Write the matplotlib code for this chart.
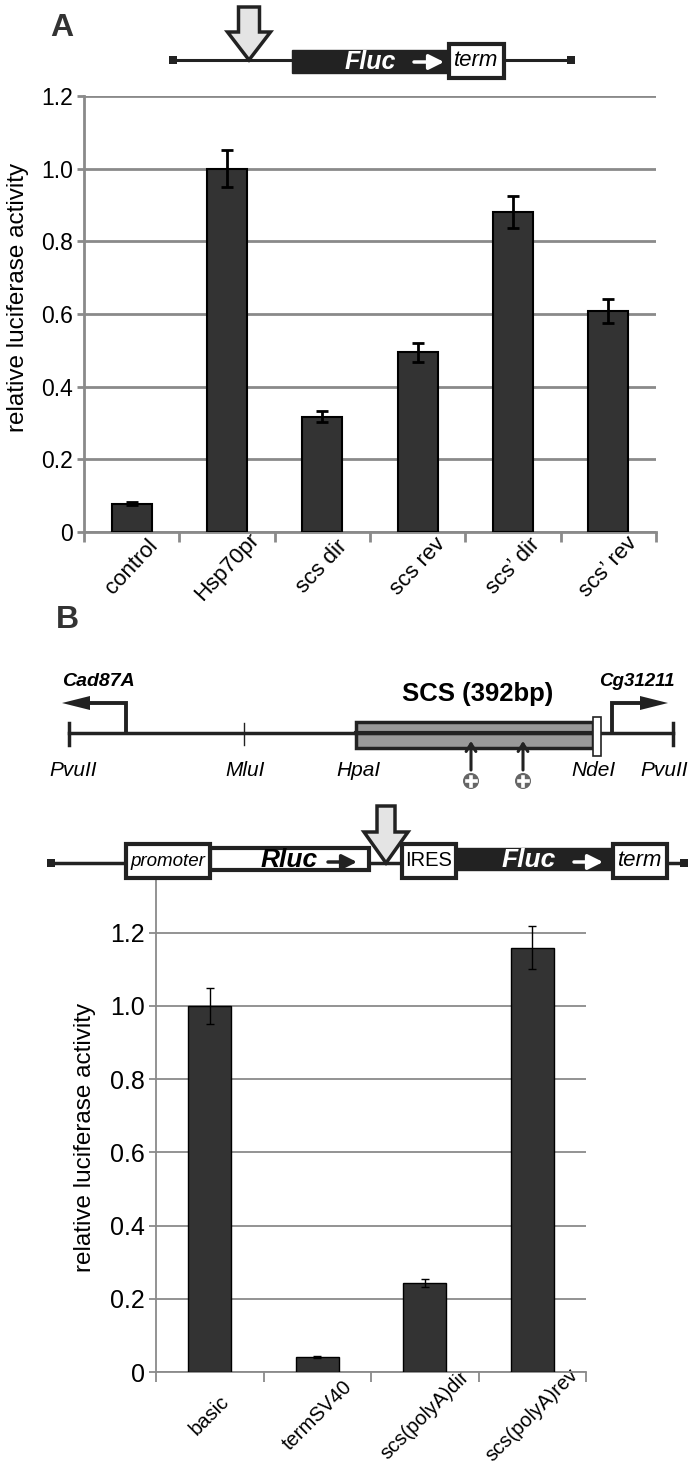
import matplotlib.pyplot as plt
import numpy as np
from matplotlib.patches import Rectangle, Polygon, Circle

# panel A: Fluc reporter, relative activity
labels_a = ['control', 'Hsp70pr', 'scs dir', 'scs rev', 'scs\u2019 dir', 'scs\u2019 rev']
values_a = [0.078, 1.0, 0.317, 0.495, 0.881, 0.608]
err_a = [0.004, 0.05, 0.015, 0.026, 0.043, 0.032]

# panel B: bicistronic Rluc-IRES-Fluc reporter
labels_b = ['basic', 'termSV40', 'scs(polyA)dir', 'scs(polyA)rev']
values_b = [1.0, 0.041, 0.242, 1.159]
err_b = [0.05, 0.002, 0.011, 0.058]

yticks = [0, 0.2, 0.4, 0.6, 0.8, 1.0, 1.2]
ytick_labels = ['0', '0.2', '0.4', '0.6', '0.8', '1.0', '1.2']

W, H = 690, 1467
DARK = '#222222'
BAR = '#333333'
GRID = '#8a8a8a'
SANS = ['Liberation Sans', 'DejaVu Sans']
plt.rcParams['font.family'] = SANS

fig = plt.figure(figsize=(W / 100, H / 100), dpi=100)


def px_axes(x0, x1, ytop, ybot):
    return fig.add_axes([x0 / W, 1 - ybot / H, (x1 - x0) / W, (ybot - ytop) / H])


def style_axes(ax, n, ylim, grid_lw, tick_size):
    ax.set_xlim(-0.5, n - 0.5)
    ax.set_ylim(*ylim)
    ax.set_yticks(yticks)
    ax.set_yticklabels(ytick_labels, fontsize=tick_size)
    ax.yaxis.grid(True, color=GRID, lw=grid_lw)
    ax.set_axisbelow(True)
    for s in ['top', 'right']:
        ax.spines[s].set_visible(False)
    for s in ['left', 'bottom']:
        ax.spines[s].set_color(GRID)
        ax.spines[s].set_linewidth(grid_lw)
    ax.tick_params(axis='y', length=5, color=GRID, width=grid_lw, pad=3)
    ax.set_xticks(np.arange(-0.5, n, 1.0), minor=True)
    ax.tick_params(axis='x', which='minor', length=7, color=GRID, width=grid_lw)


# ---- panel A chart
axA = px_axes(84, 656, 96, 532)
xa = np.arange(len(labels_a))
axA.bar(xa, values_a, width=0.42, color=BAR, edgecolor='black', linewidth=1.5, zorder=3)
axA.errorbar(xa, values_a, yerr=err_a, fmt='none', ecolor='black', elinewidth=2,
             capsize=4, capthick=2, zorder=4)
style_axes(axA, len(labels_a), (0, 1.2), 2, 16.5)
axA.set_xticks(xa)
axA.set_xticklabels(labels_a, rotation=47, ha='center', va='center',
                    rotation_mode='anchor', fontsize=16)
axA.tick_params(axis='x', which='major', length=0, pad=25)

# ---- panel B chart
axB = px_axes(156, 586, 880, 1372)
xb = np.arange(len(labels_b))
axB.bar(xb, values_b, width=0.40, color=BAR, edgecolor='black', linewidth=1.0, zorder=3)
axB.errorbar(xb, values_b, yerr=err_b, fmt='none', ecolor='black', elinewidth=1,
             capsize=3, capthick=1, zorder=4)
style_axes(axB, len(labels_b), (0, 1.344), 1.3, 18)
axB.set_xticks(xb)
axB.set_xticklabels(labels_b, rotation=45, ha='center', va='center',
                    rotation_mode='anchor', fontsize=14.5)
axB.tick_params(axis='x', which='major', length=0, pad=31)

# ---- overlay for letters, y labels and construct diagrams (pixel coords)
ov = fig.add_axes([0, 0, 1, 1])
ov.set_xlim(0, W)
ov.set_ylim(H, 0)
ov.axis('off')

ov.text(18, 297, 'relative luciferase activity', rotation=90, ha='center', va='center',
        fontsize=17.5, color='black')
ov.text(85, 1137, 'relative luciferase activity', rotation=90, ha='center', va='center',
        fontsize=17.5, color='black')
ov.text(62, 28, 'A', fontsize=23, fontweight='bold', color='#333333', ha='center', va='center')
ov.text(67, 620, 'B', fontsize=23, fontweight='bold', color='#333333', ha='center', va='center')


def box(x0, x1, y0, y1, fc, lw=3, z=3):
    ov.add_patch(Rectangle((x0, y0), x1 - x0, y1 - y0, facecolor=fc, edgecolor=DARK,
                           linewidth=lw, zorder=z))


def end_square(x, y):
    ov.add_patch(Rectangle((x - 4, y - 4), 8, 8, facecolor=DARK, edgecolor='none', zorder=3))


def small_arrow(x0, x1, y, color):
    ov.annotate('', xy=(x1, y), xytext=(x0, y),
                arrowprops=dict(arrowstyle='-|>,head_length=0.9,head_width=0.45',
                                color=color, lw=2.5, shrinkA=0, shrinkB=0), zorder=5)


def fat_arrow(xc, ytop, yhead, ytip, shaft_hw, head_hw):
    pts = [(xc - shaft_hw, ytop), (xc + shaft_hw, ytop), (xc + shaft_hw, yhead),
           (xc + head_hw, yhead), (xc, ytip), (xc - head_hw, yhead), (xc - shaft_hw, yhead)]
    ov.add_patch(Polygon(pts, closed=True, facecolor='#e4e4e4', edgecolor=DARK,
                         linewidth=2.5, joinstyle='miter', zorder=6))


# construct A
ov.plot([173, 571], [60, 60], color=DARK, lw=2.2, zorder=2)
end_square(173, 60)
end_square(571, 60)
box(292, 449, 50, 73, DARK, lw=1)
box(449, 504, 44, 78, 'white')
ov.text(370, 62, 'Fluc', color='white', fontsize=18, fontweight='bold', style='italic',
        ha='center', va='center', zorder=5)
small_arrow(414, 444, 62, 'white')
ov.text(476, 61, 'term', style='italic', fontsize=16, ha='center', va='center', zorder=5)
fat_arrow(249, 7, 32, 60, 10.5, 21.5)

# SCS map
ov.plot([69, 673], [733, 733], color=DARK, lw=2.5, zorder=2)
ov.plot([69, 69], [723, 745], color=DARK, lw=2.5, zorder=2)
ov.plot([673, 673], [723, 745], color=DARK, lw=2.5, zorder=2)
ov.plot([244, 244], [723, 745], color=DARK, lw=1, zorder=2)
box(356, 593, 722, 748, '#999999', lw=2.5, z=1)
ov.plot([356, 593], [733, 733], color=DARK, lw=3, zorder=2)
box(593, 601, 717, 756, 'white', lw=1.2, z=3)
# gene arrows
ov.plot([126, 126, 88], [733, 703, 703], color=DARK, lw=2.8, zorder=2, solid_joinstyle='miter')
ov.add_patch(Polygon([(62, 703), (90, 696), (90, 710)], closed=True, facecolor=DARK,
                     edgecolor='none', zorder=3))
ov.plot([612, 612, 642], [733, 703, 703], color=DARK, lw=2.8, zorder=2, solid_joinstyle='miter')
ov.add_patch(Polygon([(668, 703), (640, 696), (640, 710)], closed=True, facecolor=DARK,
                     edgecolor='none', zorder=3))
ov.text(98, 682, 'Cad87A', fontweight='bold', style='italic', fontsize=14,
        ha='center', va='center')
ov.text(637, 681, 'Cg31211', fontweight='bold', style='italic', fontsize=13.5,
        ha='center', va='center')
ov.text(478, 694, 'SCS (392bp)', fontweight='bold', fontsize=18.5,
        ha='center', va='center')
for xs in [471, 523]:
    ov.annotate('', xy=(xs, 741), xytext=(xs, 770),
                arrowprops=dict(arrowstyle='->,head_length=0.55,head_width=0.35', color=DARK,
                                lw=2.2, shrinkA=0, shrinkB=0))
    ov.add_patch(Circle((xs, 781), 8, facecolor='#666666', edgecolor='none', zorder=3))
    ov.plot([xs - 4.5, xs + 4.5], [781, 781], color='white', lw=2.6, zorder=4)
    ov.plot([xs, xs], [776.5, 785.5], color='white', lw=2.6, zorder=4)
for lx, name in [(73, 'PvuII'), (245, 'MluI'), (358, 'HpaI'), (593, 'NdeI'), (664, 'PvuII')]:
    ov.text(lx, 770, name, style='italic', fontsize=15, ha='center', va='center')

# construct B
ov.plot([51, 684], [863, 863], color=DARK, lw=2.5, zorder=2)
end_square(51, 863)
end_square(684, 863)
box(126, 210, 844, 878, 'white')
ov.text(168, 861, 'promoter', style='italic', fontsize=13.5, ha='center',
        va='center', zorder=5)
box(210, 369, 848, 870, 'white', lw=3, z=2)
ov.text(289, 860, 'Rluc', fontsize=19, fontweight='bold', style='italic', ha='center',
        va='center', zorder=5)
small_arrow(328, 357, 862, DARK)
box(402, 456, 844, 878, 'white')
ov.text(429, 861, 'IRES', fontsize=14.5, ha='center', va='center', zorder=5)
box(456, 613, 848, 870, DARK, lw=1, z=2)
ov.text(529, 860, 'Fluc', color='white', fontsize=19, fontweight='bold', style='italic',
        ha='center', va='center', zorder=5)
small_arrow(574, 603, 862, 'white')
box(613, 667, 844, 878, 'white')
ov.text(640, 861, 'term', style='italic', fontsize=16, ha='center',
        va='center', zorder=5)
fat_arrow(386, 806, 832, 863, 9, 22)

fig.savefig('out.png', dpi=100)
